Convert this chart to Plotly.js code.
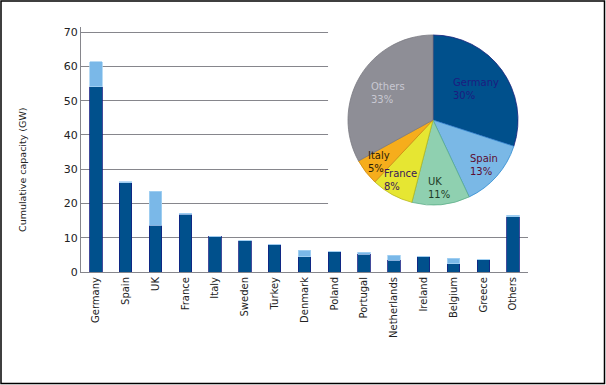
<!DOCTYPE html>
<html>
<head>
<meta charset="utf-8">
<script src="https://cdn.plot.ly/plotly-3.0.1.min.js"></script>
<style>html,body{margin:0;padding:0;background:#fff;}#chart{width:606px;height:385px;}</style>
</head>
<body>
<div id="chart"></div>
<script>
// ---- Data ----
const countries = ["Germany","Spain","UK","France","Italy","Sweden","Turkey","Denmark","Poland","Portugal","Netherlands","Ireland","Belgium","Greece","Others"];
const onshore  = [54.0, 26.0, 13.6, 16.8, 10.5, 9.1, 8.1, 4.5, 5.9, 5.2, 3.5, 4.4, 2.4, 3.6, 16.1];
const offshore = [7.4, 0.3, 10.0, 0.4, 0.0, 0.2, 0.0, 1.9, 0.2, 0.5, 1.4, 0.1, 1.6, 0.1, 0.4];
const pieLabels = ["Germany","Spain","UK","France","Italy","Others"];
const pieShares = [30, 13, 11, 8, 5, 33];
const yTicks = [0,10,20,30,40,50,60,70];

// ---- Layout helpers (pixel geometry) ----
const L = 81, R = 78, T = 27, B = 113, W = 606, H = 385;
const PW = W - L - R, PH = H - T - B;
const xp = px => (px - L) / PW;
const yp = py => (H - B - py) / PH;

const pieColors = ["#00508c","#7ab8e6","#8fd0b0","#e6e632","#f6ad1c","#8e8e96"];
const pieLines  = ["#1a237e","#2d8ad0","#5fae8a","#b8b81c","#d08a10","#7a7a82"];
const pieText   = ["#1c1c80","#5c0c30","#1e3c28","#38185a","#2a1c08","#c8c8d2"];
const pieCx = 433, pieCy = 120, pieR = 85;

const font = "DejaVu Sans";

const traces = [
  {type:"bar", name:"Onshore", x:countries, y:onshore,
   marker:{color:"#00508c", line:{color:"#141e82", width:0.8}}, hoverinfo:"none"},
  {type:"bar", name:"Offshore", x:countries, y:offshore,
   marker:{color:"#7ab8e8", line:{color:"#a6d2f2", width:0.8}}, hoverinfo:"none"},
  {type:"pie", labels:pieLabels, values:pieShares, sort:false, direction:"clockwise", rotation:0,
   marker:{colors:pieColors, line:{color:pieLines, width:0.8}},
   textinfo:"none", hoverinfo:"none", showlegend:false,
   domain:{x:[xp(pieCx-pieR), xp(pieCx+pieR)], y:[yp(pieCy+pieR), yp(pieCy-pieR)]}}
];

// pie labels placed along the slice mid-angle
const total = pieShares.reduce((a,b)=>a+b,0);
let cum = 0;
const annotations = pieLabels.map((lab,i)=>{
  const mid = (cum + pieShares[i]/2) / total * 2*Math.PI;
  cum += pieShares[i];
  const f = pieShares[i] > 20 ? 0.62 : 0.8;
  const px = pieCx + f*pieR*Math.sin(mid);
  const py = pieCy - f*pieR*Math.cos(mid);
  return {xref:"paper", yref:"paper", x:xp(px), y:yp(py), xanchor:"center", yanchor:"middle",
    text: lab + "<br>" + pieShares[i] + "%", align:"left", showarrow:false,
    font:{family:font, size:10, color:pieText[i]}};
});
annotations.push({xref:"paper", yref:"paper", x:xp(22), y:yp(170), textangle:-90,
  text:"Cumulative capacity (GW)", showarrow:false, xanchor:"center", yanchor:"middle",
  font:{family:font, size:9.5, color:"#222"}});

const layout = {
  width:W, height:H, margin:{l:L, r:R, t:T, b:B, pad:0},
  paper_bgcolor:"#fff", plot_bgcolor:"#fff",
  barmode:"stack", bargap:0.58, showlegend:false,
  font:{family:font, color:"#222"},
  xaxis:{type:"category", tickangle:-90, tickfont:{size:10, color:"#222"}, showline:true,
    linecolor:"#86868c", linewidth:1, ticks:"", showgrid:false, fixedrange:true},
  yaxis:{range:[0,71.5], tickvals:yTicks, tickfont:{size:11, color:"#222"}, showline:true,
    linecolor:"#86868c", linewidth:1, gridcolor:"#86868c", gridwidth:1, zeroline:false,
    ticks:"", fixedrange:true},
  shapes:[
    {type:"rect", xref:"x", yref:"y", x0:7.79, x1:14.5, y0:13, y1:71.5,
     fillcolor:"#fff", line:{width:0}, layer:"between"},
    {type:"rect", xref:"paper", yref:"paper", x0:xp(1), x1:xp(604.5), y0:yp(383.5), y1:yp(1),
     line:{color:"#000", width:1.5}, fillcolor:"rgba(0,0,0,0)", layer:"above"}
  ],
  annotations:annotations
};

Plotly.newPlot("chart", traces, layout, {displayModeBar:false, staticPlot:true});
</script>
</body>
</html>
